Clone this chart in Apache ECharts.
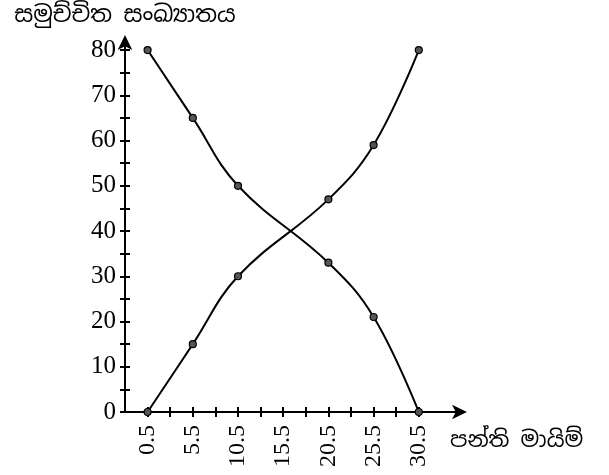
<!DOCTYPE html>
<html>
<head>
<meta charset="utf-8">
<script src="https://cdn.jsdelivr.net/npm/echarts@6/dist/echarts.min.js"></script>
<style>html,body{margin:0;padding:0;background:#fff}#c{width:609px;height:475px}</style>
</head>
<body>
<div id="c"></div>
<script>
// Data
const classBoundaries = [0.5, 5.5, 10.5, 20.5, 25.5, 30.5];
const lessThanCum = [0, 15, 30, 47, 59, 80];
const moreThanCum = [80, 65, 50, 33, 21, 0];
const xTickValues = [0.5, 3, 5.5, 8, 10.5, 13, 15.5, 18, 20.5, 23, 25.5, 28, 30.5];
const xLabelValues = [0.5, 5.5, 10.5, 15.5, 20.5, 25.5, 30.5];
const yTickValues = [0, 5, 10, 15, 20, 25, 30, 35, 40, 45, 50, 55, 60, 65, 70, 75, 80];
const yLabelValues = [0, 10, 20, 30, 40, 50, 60, 70, 80];
const xName = 'පන්ති මායිම්';
const yName = 'සමුච්චිත සංඛ්‍යාතය';

const serif = "'Liberation Serif','Times New Roman',serif";
const sinh = "'Noto Sans Sinhala','Iskoola Pota','Noto Serif Sinhala',sans-serif";

const chart = echarts.init(document.getElementById('c'), null, {renderer: 'canvas'});
const pair = (xs, ys) => xs.map((x, i) => [x, ys[i]]);

const lineSeries = (data) => ({
  type: 'line',
  data: data,
  smooth: 0.4,
  symbol: 'circle',
  symbolSize: 7,
  showSymbol: true,
  lineStyle: {color: '#000', width: 2},
  itemStyle: {color: '#555', borderColor: '#000', borderWidth: 1.2},
  silent: true,
  animation: false
});

chart.setOption({
  animation: false,
  backgroundColor: '#fff',
  title: {
    text: xName, left: 450, top: 430,
    textStyle: {fontFamily: sinh, fontSize: 22, fontWeight: 'normal', color: '#000'},
    padding: 0
  },
  grid: {left: 125, right: 145, top: 41, bottom: 63},
  xAxis: [{
    type: 'value', min: -2, max: 35.5,
    axisLine: {show: true, onZero: false, lineStyle: {color: '#000', width: 2}, symbol: ['none', 'arrow'], symbolSize: [11, 15], symbolOffset: [0, 3]},
    axisTick: {show: true, inside: false, length: 5, lineStyle: {color: '#000', width: 2}, customValues: xTickValues},
    axisLabel: {show: true, rotate: 90, margin: 13, fontFamily: serif, fontSize: 24, color: '#000', customValues: xLabelValues, formatter: v => v.toFixed(1)},
    splitLine: {show: false}
  }, {
    type: 'value', min: -2, max: 35.5, position: 'bottom', offset: 0,
    axisLine: {show: false, onZero: false},
    axisTick: {show: true, inside: true, length: 5, lineStyle: {color: '#000', width: 2}, customValues: xTickValues},
    axisLabel: {show: false},
    splitLine: {show: false}
  }],
  yAxis: [{
    type: 'value', min: 0, max: 82,
    name: yName, nameLocation: 'end', nameGap: 14,
    nameTextStyle: {fontFamily: sinh, fontSize: 23, color: '#000', align: 'center'},
    axisLine: {show: true, onZero: false, lineStyle: {color: '#000', width: 2}, symbol: ['none', 'arrow'], symbolSize: [11, 15], symbolOffset: [0, 6]},
    axisTick: {show: true, inside: false, length: 5, lineStyle: {color: '#000', width: 2}, customValues: yTickValues},
    axisLabel: {show: true, margin: 9, fontFamily: serif, fontSize: 25, color: '#000', customValues: yLabelValues},
    splitLine: {show: false}
  }, {
    type: 'value', min: 0, max: 82, position: 'left', offset: 0,
    axisLine: {show: false, onZero: false},
    axisTick: {show: true, inside: true, length: 5, lineStyle: {color: '#000', width: 2}, customValues: yTickValues},
    axisLabel: {show: false},
    splitLine: {show: false}
  }],
  series: [
    Object.assign(lineSeries(pair(classBoundaries, lessThanCum)), {name: 'less'}),
    Object.assign(lineSeries(pair(classBoundaries, moreThanCum)), {name: 'more'})
  ]
});
</script>
</body>
</html>
